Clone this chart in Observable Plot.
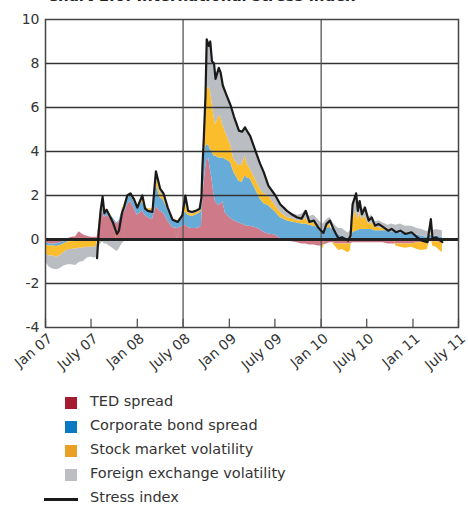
<!DOCTYPE html>
<html><head><meta charset="utf-8">
<script src="https://cdn.jsdelivr.net/npm/d3@7"></script>
<script src="https://cdn.jsdelivr.net/npm/@observablehq/plot@0.6"></script>
<style>
body{margin:0;background:#fff;}
#wrap{position:relative;width:468px;height:507px;overflow:hidden;background:#fff}
#title{position:absolute;left:47px;top:-13px;font:bold 15px "DejaVu Sans",sans-serif;color:#222;white-space:nowrap}
#chart{position:absolute;left:0;top:0}
#legend{position:absolute;left:0;top:391px;font-family:"DejaVu Sans",sans-serif;font-size:14.5px;color:#333}
.row{position:relative;height:24px;width:400px}
.sw{position:absolute;left:65px;top:6px;width:12px;height:12px}
.ln{position:absolute;left:44px;top:11px;width:34px;height:2.5px;background:#1a1a1a}
.tx{position:absolute;left:90px;top:2px;white-space:nowrap}
</style></head><body>
<div id="wrap"><div id="title">Chart 1.6: International stress index</div><div id="chart"></div><div id="legend"></div></div>
<script>
const dates = ["2007-01-01","2007-01-15","2007-02-01","2007-02-15","2007-03-01","2007-03-15","2007-04-01","2007-04-15","2007-05-01","2007-05-15","2007-06-01","2007-06-15","2007-07-01","2007-07-15","2007-07-25","2007-08-01","2007-08-08","2007-08-16","2007-08-23","2007-09-01","2007-09-12","2007-09-25","2007-10-12","2007-10-20","2007-11-01","2007-11-10","2007-11-22","2007-12-05","2007-12-20",
"2008-01-01","2008-01-21","2008-02-01","2008-02-12","2008-03-01","2008-03-15","2008-04-01","2008-04-14","2008-05-01","2008-05-20","2008-06-10","2008-06-28","2008-07-10","2008-07-21","2008-08-05","2008-08-20","2008-09-05","2008-09-12","2008-09-16","2008-09-21","2008-09-28","2008-10-03","2008-10-11","2008-10-17","2008-10-24","2008-11-01","2008-11-07","2008-11-20","2008-11-27","2008-12-06","2008-12-16",
"2009-01-06","2009-01-19","2009-02-08","2009-02-21","2009-03-04","2009-03-14","2009-03-25","2009-04-14","2009-05-03","2009-05-18","2009-06-05","2009-07-03","2009-07-22","2009-08-18","2009-09-05","2009-09-28","2009-10-15","2009-11-01","2009-11-15","2009-12-03","2009-12-20",
"2010-01-01","2010-01-10","2010-01-22","2010-02-05","2010-02-18","2010-03-01","2010-03-12","2010-03-25","2010-04-18","2010-04-28","2010-05-06","2010-05-20","2010-05-27","2010-06-03","2010-06-12","2010-06-24","2010-07-09","2010-07-21","2010-08-03","2010-08-18","2010-09-05","2010-09-24","2010-10-08","2010-10-25","2010-11-12","2010-12-02","2010-12-26",
"2011-01-18","2011-02-06","2011-02-28","2011-03-13","2011-03-20","2011-04-03","2011-04-28"];

const tedSpread = [-0.15,-0.20,-0.20,-0.20,-0.15,-0.10,0.05,0.10,0.12,0.35,0.20,0.15,0.10,0.10,0.10,0.60,1.00,1.30,1.00,1.10,1.00,0.90,0.70,0.80,1.10,1.20,1.55,1.75,1.40,
1.10,1.30,1.10,1.00,0.90,1.50,1.30,1.20,0.85,0.55,0.50,0.60,0.65,0.55,0.50,0.50,0.55,0.60,1.50,2.40,3.20,3.60,3.70,3.20,2.75,2.00,1.70,1.55,1.60,1.70,1.20,
0.95,0.85,0.75,0.70,0.64,0.60,0.60,0.55,0.45,0.33,0.25,0.20,0.05,-0.05,-0.10,-0.15,-0.20,-0.20,-0.25,-0.25,-0.30,
-0.30,-0.25,-0.20,-0.15,-0.15,-0.20,-0.20,-0.20,-0.20,-0.20,-0.15,-0.15,-0.15,-0.15,-0.15,-0.15,-0.15,-0.15,-0.15,-0.15,-0.15,-0.20,-0.20,-0.20,-0.20,-0.20,-0.20,
-0.15,-0.15,-0.10,-0.10,-0.10,-0.10,-0.15];

const corpBond = [-0.10,-0.10,-0.10,-0.12,-0.12,-0.10,-0.10,-0.10,-0.08,-0.05,-0.05,-0.05,-0.05,-0.05,-0.05,0.05,0.10,0.20,0.15,0.15,0.10,0.10,0.05,0.05,0.15,0.25,0.30,0.25,0.30,
0.30,0.40,0.35,0.35,0.40,1.00,0.60,0.60,0.50,0.35,0.30,0.45,0.60,0.55,0.55,0.60,0.65,0.70,0.80,1.20,1.00,0.70,0.60,0.90,1.25,1.80,2.10,2.15,2.10,2.00,2.45,
2.55,2.20,1.90,1.90,2.25,2.20,2.15,1.75,1.40,1.30,1.30,1.05,0.95,0.85,0.80,0.75,0.70,0.70,0.65,0.60,0.55,
0.45,0.40,0.50,0.55,0.45,0.30,0.20,0.15,0.05,0.10,0.30,0.40,0.40,0.45,0.45,0.45,0.45,0.45,0.40,0.40,0.40,0.40,0.35,0.35,0.30,0.25,0.25,
0.20,0.15,0.10,0.20,0.15,0.15,0.10];

const stockVol = [-0.40,-0.45,-0.45,-0.50,-0.45,-0.40,-0.35,-0.35,-0.35,-0.35,-0.35,-0.30,-0.30,-0.30,-0.20,0.05,0.20,0.40,0.20,0.15,0.10,0.00,-0.10,-0.05,0.10,0.15,0.15,0.10,0.10,
0.10,0.30,0.10,0.05,0.10,0.40,0.20,0.20,0.10,0.05,0.05,0.05,0.40,0.10,0.10,0.10,0.10,0.30,0.50,0.70,1.50,2.60,2.60,2.70,2.25,1.80,1.40,1.90,1.90,1.50,1.25,
0.80,0.60,0.70,0.80,0.90,0.60,0.45,0.45,0.45,0.45,0.45,0.30,0.25,0.15,0.15,0.10,0.15,0.25,0.10,0.15,0.05,
-0.05,-0.15,0.10,0.15,-0.05,-0.15,-0.30,-0.25,-0.40,-0.30,0.60,0.90,0.50,0.75,0.45,0.60,0.25,0.30,0.15,0.15,0.10,0.00,0.05,-0.10,-0.15,-0.20,-0.15,
-0.30,-0.35,-0.35,0.10,-0.20,-0.25,-0.45];

const fxVol = [-0.35,-0.50,-0.60,-0.55,-0.60,-0.60,-0.70,-0.70,-0.75,-0.65,-0.60,-0.50,-0.45,-0.50,-0.55,-0.30,-0.20,-0.10,-0.20,-0.20,-0.30,-0.40,-0.45,-0.40,-0.20,-0.10,0.00,0.00,0.00,
0.00,0.05,0.00,0.00,0.00,0.20,0.10,0.10,0.05,0.00,-0.05,0.00,0.20,0.05,0.05,0.05,0.05,0.20,0.30,0.30,0.80,2.10,1.90,2.20,1.90,2.40,2.10,2.20,2.00,1.80,1.80,
1.80,1.95,1.60,1.50,1.30,1.50,1.50,1.30,1.15,1.00,0.50,0.45,0.35,0.30,0.25,0.25,0.30,0.40,0.30,0.35,0.30,
0.30,0.30,0.30,0.30,0.30,0.30,0.30,0.35,0.25,0.30,0.70,0.85,0.55,0.60,0.40,0.50,0.30,0.35,0.25,0.30,0.25,0.25,0.30,0.30,0.40,0.35,0.35,
0.30,0.30,0.25,0.35,0.25,0.30,0.30];

const stressIndex = [null,null,null,null,null,null,null,null,null,null,null,null,null,null,-0.85,0.40,1.30,1.95,1.20,1.35,1.10,0.80,0.25,0.40,1.20,1.50,2.00,2.10,1.80,
1.45,2.00,1.40,1.30,1.25,3.10,2.30,2.10,1.45,0.90,0.80,1.10,2.00,1.30,1.25,1.30,1.40,1.90,3.30,4.50,6.50,9.10,8.80,9.00,8.10,8.00,7.30,7.80,7.60,7.00,6.70,
6.10,5.60,4.95,4.90,5.10,4.90,4.70,4.05,3.45,3.05,2.45,2.00,1.60,1.30,1.15,1.00,0.95,1.30,0.80,0.86,0.55,
0.40,0.30,0.70,0.86,0.50,0.25,0.03,0.10,-0.05,0.18,1.60,2.10,1.30,1.75,1.15,1.45,0.86,1.00,0.63,0.70,0.56,0.40,0.48,0.33,0.40,0.25,0.33,
0.10,-0.05,-0.12,0.93,0.03,0.10,-0.12];

const seriesNames = ["TED spread","Corporate bond spread","Stock market volatility","Foreign exchange volatility"];
const seriesValues = [tedSpread, corpBond, stockVol, fxVol];
const areaColors = ["#cf7a88","#67abd8","#fbbd2c","#babdc1"];
const legendColors = ["#a51c30","#0a79c2","#e9a025","#bcbec1"];
const lineLabel = "Stress index";

const tickDates = ["2007-01-01","2007-07-01","2008-01-01","2008-07-01","2009-01-01","2009-07-01","2010-01-01","2010-07-01","2011-01-01","2011-07-01"];
const tickLabels = ["Jan 07","July 07","Jan 08","July 08","Jan 09","July 09","Jan 10","July 10","Jan 11","July 11"];
const gridDates = ["2008-07-01","2010-01-01"];
const yTicks = [-4,-2,0,2,4,6,8,10];
const yGrid = [-2,2,4,6,8];

const parse = s => new Date(s + "T00:00:00Z");
const long = [];
dates.forEach((d, i) => seriesNames.forEach((s, j) => long.push({date: parse(d), series: s, value: seriesValues[j][i]})));
const stress = dates.map((d, i) => ({date: parse(d), value: stressIndex[i]}));
const ticks = tickDates.map(parse);
const labelMap = new Map(ticks.map((t, i) => [+t, tickLabels[i]]));

const chart = Plot.plot({
  width: 468, height: 391,
  marginLeft: 45, marginRight: 10, marginTop: 19, marginBottom: 64,
  style: {fontFamily: "DejaVu Sans, sans-serif", fontSize: "14px", color: "#333", background: "transparent"},
  x: {type: "utc", domain: [parse("2007-01-01"), parse("2011-07-01")]},
  y: {domain: [-4, 10]},
  color: {domain: seriesNames, range: areaColors},
  marks: [
    Plot.areaY(long, {x: "date", y: "value", fill: "series", z: "series", order: seriesNames}),
    Plot.ruleY(yGrid, {stroke: "#333", strokeWidth: 1.4}),
    Plot.ruleX(gridDates.map(parse), {stroke: "#555", strokeWidth: 1.3}),
    Plot.ruleX(ticks, {y1: -4, y2: -3.62, stroke: "#555", strokeWidth: 1.3}),
    Plot.ruleY([0], {stroke: "#222", strokeWidth: 3}),
    Plot.line(stress, {x: "date", y: "value", stroke: "#1a1a1a", strokeWidth: 2.2}),
    Plot.frame({stroke: "#444", strokeWidth: 1.5}),
    Plot.axisY({ticks: yTicks, tickSize: 0, tickPadding: 6, tickFormat: d => String(d), label: null, fontSize: 14}),
    Plot.axisX({ticks: ticks, tickSize: 0, tickPadding: 9, dx: 5, tickRotate: -40, tickFormat: d => labelMap.get(+d), label: null, fontSize: 14})
  ]
});
document.getElementById("chart").appendChild(chart);

const legend = document.getElementById("legend");
seriesNames.forEach((s, i) => {
  const r = document.createElement("div"); r.className = "row";
  r.innerHTML = `<div class="sw" style="background:${legendColors[i]}"></div><div class="tx">${s}</div>`;
  legend.appendChild(r);
});
const r = document.createElement("div"); r.className = "row";
r.innerHTML = `<div class="ln"></div><div class="tx">${lineLabel}</div>`;
legend.appendChild(r);
</script>
</body></html>
